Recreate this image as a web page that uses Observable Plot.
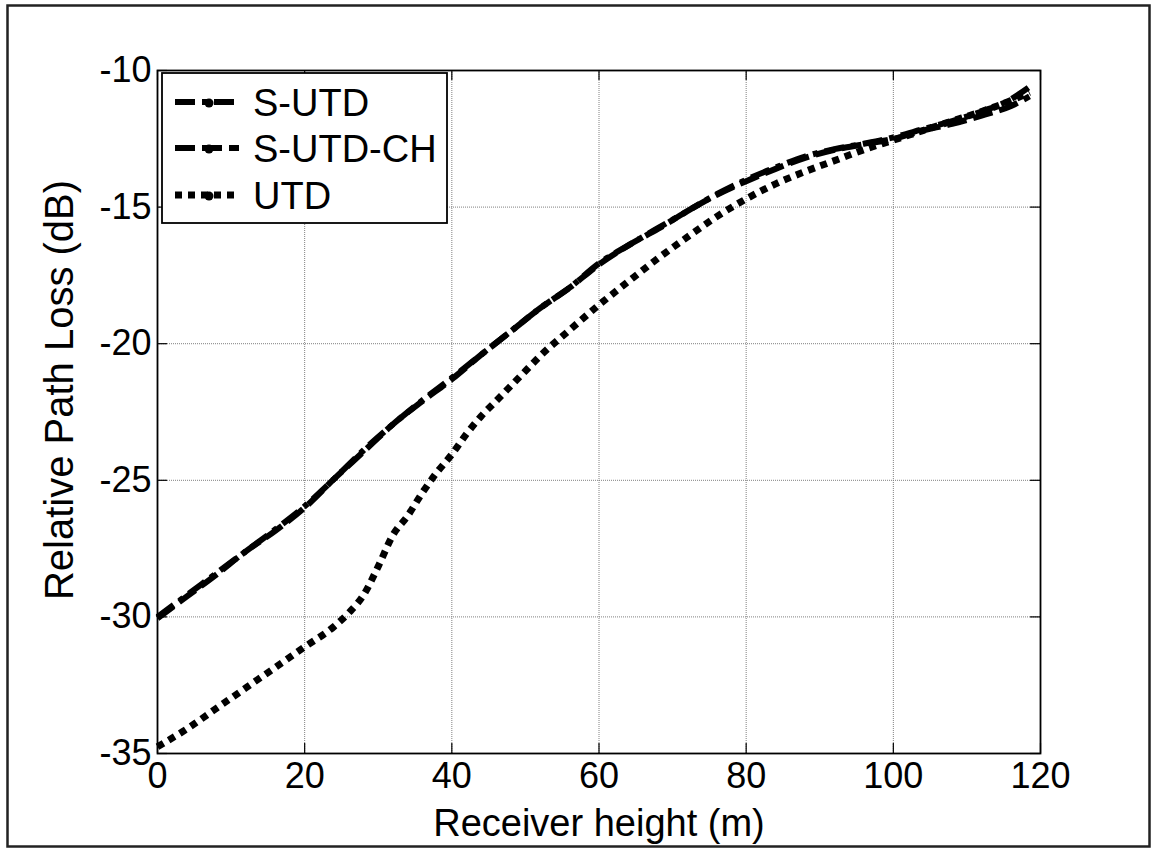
<!DOCTYPE html>
<html>
<head>
<meta charset="utf-8">
<script src="https://cdn.jsdelivr.net/npm/d3@7"></script>
<script src="https://cdn.jsdelivr.net/npm/@observablehq/plot@0.6"></script>
<style>
  html, body { margin: 0; padding: 0; background: #fff; }
  #wrap { position: relative; width: 1153px; height: 848px; font-family: "Liberation Sans", Arial, Helvetica, sans-serif; }
  #legend { position: absolute; left: 161px; top: 72px; }
</style>
</head>
<body>
<div id="wrap"></div>
<script>
// ---- data ----
const xTicks = [0, 20, 40, 60, 80, 100, 120];
const yTicks = [-35, -30, -25, -20, -15, -10];

const heightsS = [0, 4, 8, 12, 16, 20, 24, 28, 32, 36, 40, 44, 48, 52, 56, 60, 64, 68, 72, 76, 80, 84, 88, 92, 96, 100, 104, 108, 112, 116, 118.5];
const sutd     = [-30.0, -29.2, -28.4, -27.6, -26.8, -25.95, -24.95, -23.9, -22.95, -22.07, -21.25, -20.4, -19.55, -18.7, -17.95, -17.06, -16.4, -15.77, -15.15, -14.53, -14.0, -13.55, -13.15, -12.88, -12.68, -12.45, -12.15, -11.85, -11.5, -11.05, -10.6];
const sutdch   = [-30.05, -29.25, -28.45, -27.6, -26.85, -26.0, -24.95, -23.95, -22.95, -22.1, -21.3, -20.4, -19.55, -18.7, -17.95, -17.1, -16.4, -15.8, -15.15, -14.55, -14.05, -13.6, -13.2, -12.9, -12.7, -12.5, -12.2, -11.95, -11.65, -11.3, -10.95];

const heightsU = [0, 4, 8, 12, 16, 20, 24, 26, 28, 30, 32, 34, 36, 38, 40, 42, 44, 46, 48, 50, 52, 56, 60, 64, 68, 72, 76, 80, 84, 88, 92, 96, 100, 104, 108, 112, 116, 118.5];
const utd      = [-34.75, -34.1, -33.35, -32.6, -31.85, -31.1, -30.35, -29.85, -29.2, -28.15, -27.0, -26.3, -25.45, -24.7, -24.05, -23.3, -22.65, -22.1, -21.55, -21.0, -20.45, -19.5, -18.58, -17.72, -16.88, -16.1, -15.35, -14.7, -14.15, -13.7, -13.3, -12.9, -12.55, -12.2, -11.85, -11.5, -11.1, -10.8];

const seriesNames = ["S-UTD", "S-UTD-CH", "UTD"];

// ---- styles ----
const styles = {
  "S-UTD":    { dash: "20,7,5,7", width: 6 },
  "S-UTD-CH": { dash: "20,7", width: 6 },
  "UTD":      { dash: "7,6", width: 7 }
};
const FONT = '"Liberation Sans", Arial, Helvetica, sans-serif';

const tableS  = heightsS.map((h, i) => ({ h, v: sutd[i] }));
const tableCH = heightsS.map((h, i) => ({ h, v: sutdch[i] }));
const tableU  = heightsU.map((h, i) => ({ h, v: utd[i] }));

const W = 1153, H = 848;
const mL = 157, mR = 113, mT = 70, mB = 95;
const innerH = H - mT - mB, innerW = W - mL - mR;
const tick = 10;

const lineOpts = (name) => ({
  x: "h", y: "v", stroke: "#000", strokeWidth: styles[name].width,
  strokeDasharray: styles[name].dash, strokeLinecap: "butt", strokeLinejoin: "round",
  curve: "monotone-x"
});

const chart = Plot.plot({
  width: W, height: H,
  marginLeft: mL, marginRight: mR, marginTop: mT, marginBottom: mB,
  style: { fontFamily: FONT, fontSize: "36px", color: "#000", background: "transparent", overflow: "visible" },
  x: { domain: [0, 120], ticks: xTicks, tickSize: 0, tickPadding: 9, label: null, tickFormat: d => String(d) },
  y: { domain: [-35, -10], ticks: yTicks, tickSize: 0, tickPadding: 6, label: null, tickFormat: d => String(d) },
  marks: [
    // outer figure border
    Plot.frame({ stroke: "#222", strokeWidth: 2.5, insetLeft: -(mL - 7), insetTop: -(mT - 5), insetRight: -(mR - 4), insetBottom: -(mB - 2) }),
    // grid
    Plot.ruleX(xTicks, { x: d => d, stroke: "#808080", strokeWidth: 1, strokeDasharray: "1,1" }),
    Plot.ruleY(yTicks, { y: d => d, stroke: "#808080", strokeWidth: 1, strokeDasharray: "1,1" }),
    // inward ticks on all four sides
    Plot.ruleX(xTicks, { x: d => d, stroke: "#000", strokeWidth: 1.2, insetTop: innerH - tick }),
    Plot.ruleX(xTicks, { x: d => d, stroke: "#000", strokeWidth: 1.2, insetBottom: innerH - tick }),
    Plot.ruleY(yTicks, { y: d => d, stroke: "#000", strokeWidth: 1.2, insetRight: innerW - tick }),
    Plot.ruleY(yTicks, { y: d => d, stroke: "#000", strokeWidth: 1.2, insetLeft: innerW - tick }),
    // series
    Plot.line(tableU, lineOpts("UTD")),
    Plot.line(tableCH, lineOpts("S-UTD-CH")),
    Plot.line(tableS, lineOpts("S-UTD")),
    // axes box
    Plot.frame({ stroke: "#000", strokeWidth: 1.8 }),
    // axis titles
    Plot.text(["Receiver height (m)"], { frameAnchor: "bottom", dy: 70, lineAnchor: "middle", textAnchor: "middle", fontSize: 38, fill: "#000", text: d => d }),
    Plot.text(["Relative Path Loss (dB)"], { frameAnchor: "left", rotate: -90, dx: -97, dy: -22, lineAnchor: "middle", textAnchor: "middle", fontSize: 40, fill: "#000", text: d => d })
  ]
});

const wrap = document.getElementById("wrap");
wrap.appendChild(chart);

// ---- legend overlay ----
const lw = 287, lh = 152;
const ns = "http://www.w3.org/2000/svg";
const leg = document.createElementNS(ns, "svg");
leg.setAttribute("id", "legend");
leg.setAttribute("width", lw);
leg.setAttribute("height", lh);
const box = document.createElementNS(ns, "rect");
box.setAttribute("x", 1); box.setAttribute("y", 1);
box.setAttribute("width", lw - 2); box.setAttribute("height", lh - 2);
box.setAttribute("fill", "#fff"); box.setAttribute("stroke", "#000"); box.setAttribute("stroke-width", 1.8);
leg.appendChild(box);
const rowY = [30, 76, 123];
seriesNames.forEach((name, i) => {
  const st = styles[name];
  const ln = document.createElementNS(ns, "line");
  ln.setAttribute("x1", 14); ln.setAttribute("x2", 78);
  ln.setAttribute("y1", rowY[i]); ln.setAttribute("y2", rowY[i]);
  ln.setAttribute("stroke", "#000"); ln.setAttribute("stroke-width", st.width);
  ln.setAttribute("stroke-dasharray", st.dash);
  leg.appendChild(ln);
  const dot = document.createElementNS(ns, "circle");
  dot.setAttribute("cx", 48); dot.setAttribute("cy", rowY[i] + 1); dot.setAttribute("r", 4.5);
  dot.setAttribute("fill", "#000");
  leg.appendChild(dot);
  const t = document.createElementNS(ns, "text");
  t.setAttribute("x", 92); t.setAttribute("y", rowY[i]);
  t.setAttribute("dy", "0.36em");
  t.setAttribute("font-family", FONT);
  t.setAttribute("font-size", 38);
  t.setAttribute("fill", "#000");
  t.textContent = name;
  leg.appendChild(t);
});
wrap.appendChild(leg);
</script>
</body>
</html>
